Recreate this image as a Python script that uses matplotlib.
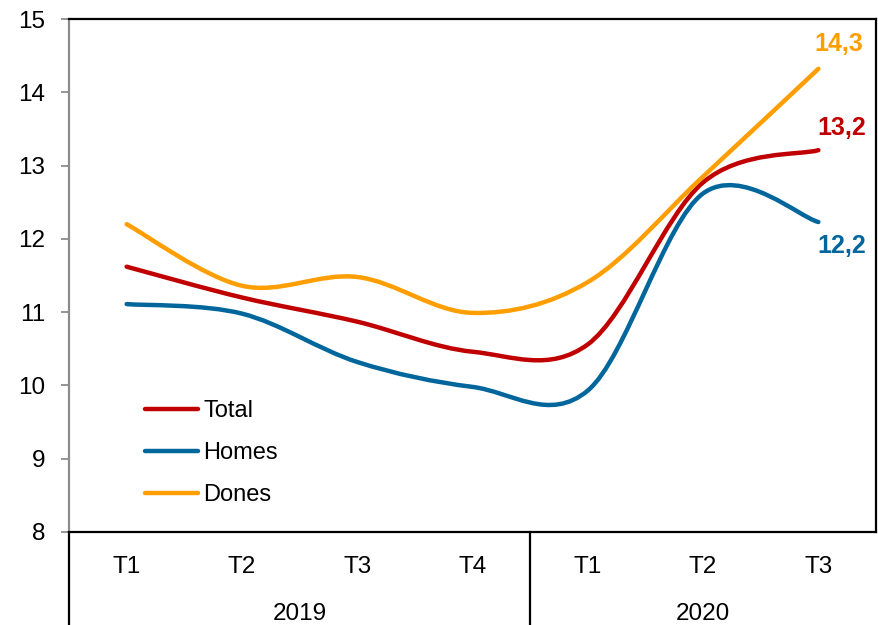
import numpy as np
import matplotlib.pyplot as plt
from matplotlib.path import Path
from matplotlib.patches import PathPatch
from matplotlib.lines import Line2D
import matplotlib.transforms as mtransforms

plt.rcParams['font.family'] = ['Liberation Sans', 'DejaVu Sans']

# données
trimestres = ['T1', 'T2', 'T3', 'T4', 'T1', 'T2', 'T3']
annees = ['2019', '2020']
n_par_annee = [4, 3]
total = [11.62, 11.20, 10.87, 10.46, 10.56, 12.77, 13.21]
homes = [11.11, 10.98, 10.32, 9.98, 9.93, 12.62, 12.23]
dones = [12.20, 11.36, 11.48, 10.99, 11.41, 12.85, 14.32]
etiquettes_fin = ['13,2', '12,2', '14,3']

series = [('Total', total, '#C00000'),
          ('Homes', homes, '#00669B'),
          ('Dones', dones, '#FF9E00')]


def courbe_lissee(x, y):
    # lissage type Excel (Catmull-Rom -> Bézier cubiques)
    pts = np.column_stack([x, y]).astype(float)
    ext = np.vstack([pts[0], pts, pts[-1]])
    verts = [pts[0]]
    codes = [Path.MOVETO]
    for i in range(1, len(ext) - 2):
        p0, p1, p2, p3 = ext[i - 1], ext[i], ext[i + 1], ext[i + 2]
        verts += [p1 + (p2 - p0) / 6, p2 - (p3 - p1) / 6, p2]
        codes += [Path.CURVE4] * 3
    return Path(verts, codes)


fig = plt.figure(figsize=(8.79, 6.25), dpi=100)
ax = fig.add_axes([69 / 879, 1 - 532 / 625, 807 / 879, 513 / 625])

x = np.arange(len(trimestres))
for nom, vals, coul in series:
    ax.add_patch(PathPatch(courbe_lissee(x, vals), facecolor='none',
                           edgecolor=coul, lw=3.2, capstyle='round'))

# étiquettes du dernier point
decalages = [(17, 16), (17, -17), (15, 18)]
for (nom, vals, coul), txt, dec in zip(series, etiquettes_fin, decalages):
    ax.annotate(txt, (x[-1], vals[-1]), xytext=dec, textcoords='offset points',
                ha='center', va='center', color=coul, fontsize=18,
                fontweight='bold')

ax.set_xlim(-0.5, 6.5)
ax.set_ylim(8, 15)
ax.set_yticks(range(8, 16))
ax.tick_params(axis='y', length=6, width=1.3, color='#8C8C8C', pad=11,
               labelsize=17.5)
ax.set_xticks(x)
ax.set_xticklabels(trimestres)
ax.tick_params(axis='x', length=0, pad=17, labelsize=17.5)

ax.spines['left'].set_color('#8C8C8C')
ax.spines['left'].set_linewidth(1.6)
for s in ['top', 'right', 'bottom']:
    ax.spines[s].set_color('black')
    ax.spines[s].set_linewidth(1.6)

# axe des catégories à deux niveaux
trans = mtransforms.blended_transform_factory(ax.transData, ax.transAxes)
debut = -0.5
for nom_an, n in zip(annees, n_par_annee):
    ax.plot([debut, debut], [0, -0.25], color='black', lw=1.6,
            transform=trans, clip_on=False)
    ax.text(debut + n / 2, -0.16, nom_an, transform=trans, ha='center',
            va='center', fontsize=17.5)
    debut += n

# légende
poignees = [Line2D([], [], color=c, lw=3.2, solid_capstyle='round')
            for _, _, c in series]
ax.legend(poignees, [s[0] for s in series], loc='center left',
          bbox_to_anchor=(0.094, 0.154), frameon=False, fontsize=17,
          handlelength=2.25, handletextpad=0.22, labelspacing=0.85,
          borderpad=0, borderaxespad=0)

fig.savefig('out.png', dpi=100)
